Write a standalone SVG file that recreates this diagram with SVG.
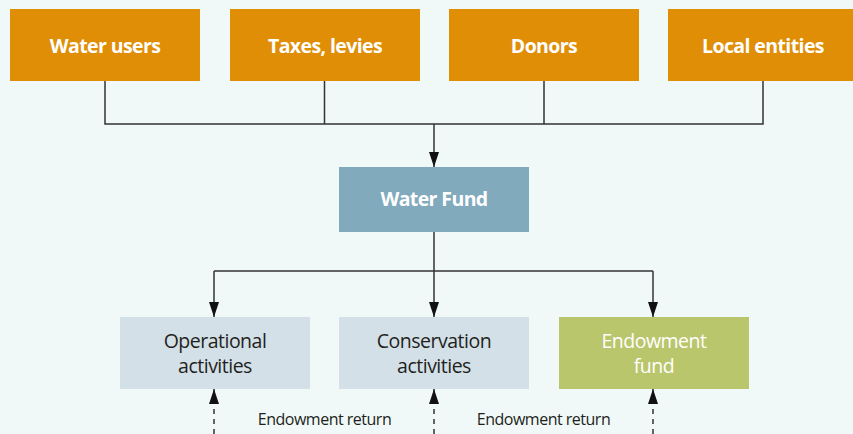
<svg xmlns="http://www.w3.org/2000/svg" width="853" height="434" viewBox="0 0 853 434">
<defs>
<style>
.src{fill:#E08E05}
.srct{font-family:"Open Sans","Liberation Sans",sans-serif;font-weight:bold;font-size:19.5px;fill:#ffffff;text-anchor:middle;letter-spacing:-0.6px}
.act{fill:#D3E0E7}
.actt{font-family:"Open Sans","Liberation Sans",sans-serif;font-size:19.5px;fill:#231f20;text-anchor:middle;letter-spacing:-0.5px}
.ln{fill:none;stroke:#333;stroke-width:1.5}
.dl{fill:none;stroke:#333;stroke-width:1.5;stroke-dasharray:5 5}
.lbl{font-family:"Open Sans","Liberation Sans",sans-serif;font-size:16px;fill:#231f20;text-anchor:middle;letter-spacing:-0.5px}
</style>
<marker id="ah" viewBox="0 0 15 10" refX="15" refY="5" markerWidth="15" markerHeight="10" markerUnits="userSpaceOnUse" orient="auto">
<path d="M0,0 L15,5 L0,10 Z" fill="#111"/>
</marker>
</defs>
<rect width="853" height="434" fill="#F1F9F8"/>
<g id="connectors">
<path class="ln" d="M105,81 V124 H763 V81 M324.5,81 V124 M544,81 V124"/>
<path class="ln" d="M434,124 V167" marker-end="url(#ah)"/>
<path class="ln" d="M434,232 V271"/>
<path class="ln" d="M214,271 H653"/>
<path class="ln" d="M214,271 V317" marker-end="url(#ah)"/>
<path class="ln" d="M434,271 V317" marker-end="url(#ah)"/>
<path class="ln" d="M653,271 V317" marker-end="url(#ah)"/>
<path class="dl" d="M214,434 V389" marker-end="url(#ah)"/>
<path class="dl" d="M434,434 V389" marker-end="url(#ah)"/>
<path class="dl" d="M653,434 V389" marker-end="url(#ah)"/>
<text class="lbl" x="324.5" y="425">Endowment return</text>
<text class="lbl" x="543.5" y="425">Endowment return</text>
</g>
<g id="water-users"><rect class="src" x="10" y="9" width="190" height="72"/><text class="srct" x="105" y="53">Water users</text></g>
<g id="taxes-levies"><rect class="src" x="230" y="9" width="190" height="72"/><text class="srct" x="325" y="53">Taxes, levies</text></g>
<g id="donors"><rect class="src" x="449" y="9" width="190" height="72"/><text class="srct" x="544" y="53">Donors</text></g>
<g id="local-entities"><rect class="src" x="668" y="9" width="190" height="72"/><text class="srct" x="763" y="53">Local entities</text></g>
<g id="water-fund"><rect x="339" y="167" width="190" height="65" fill="#82AABD"/><text class="srct" x="434" y="206" style="font-size:19.5px">Water Fund</text></g>
<g id="operational-activities"><rect class="act" x="120" y="317" width="190" height="72"/><text class="actt" x="215" y="348">Operational</text><text class="actt" x="215" y="373">activities</text></g>
<g id="conservation-activities"><rect class="act" x="339" y="317" width="190" height="72"/><text class="actt" x="434" y="348">Conservation</text><text class="actt" x="434" y="373">activities</text></g>
<g id="endowment-fund"><rect x="559" y="317" width="190" height="72" fill="#BAC66B"/><text class="actt" x="654" y="348" style="fill:#ffffff">Endowment</text><text class="actt" x="654" y="373" style="fill:#ffffff">fund</text></g>
</svg>
